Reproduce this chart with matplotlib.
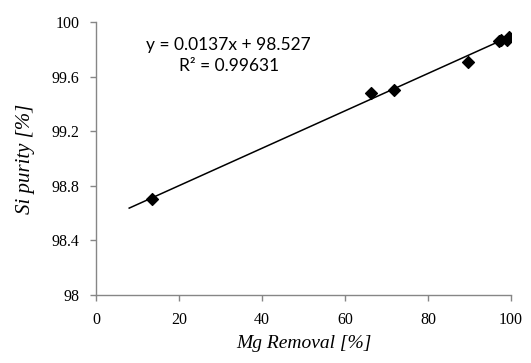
import numpy as np
import matplotlib.pyplot as plt

mg_removal = [13.5, 66.3, 71.7, 89.7, 97.1, 97.6, 99.1, 99.5]
si_purity = [98.70, 99.48, 99.50, 99.71, 99.86, 99.87, 99.87, 99.89]

# Excel linear trendline
slope, intercept = 0.0137, 98.527
trend_x = np.array([8, 100])
eq_text = 'y = 0.0137x + 98.527\nR² = 0.99631'

x_ticks = [0, 20, 40, 60, 80, 100]
y_ticks = [98, 98.4, 98.8, 99.2, 99.6, 100]
y_tick_labels = ['98', '98.4', '98.8', '99.2', '99.6', '100']

fig = plt.figure(figsize=(5.31, 3.63), dpi=100)
ax = fig.add_axes([0.1808, 0.1873, 0.7815, 0.7521])

ax.plot(trend_x, slope * trend_x + intercept, color='black', lw=1.1, zorder=2)
ax.scatter(mg_removal, si_purity, marker='D', s=36, color='black', zorder=3)

ax.text(32, 99.755, eq_text, ha='center', va='center', fontsize=12.5,
        family='Lato', linespacing=1.4)

ax.set_xlim(0, 100)
ax.set_ylim(98, 100)
ax.set_xticks(x_ticks)
ax.set_yticks(y_ticks)
ax.set_yticklabels(y_tick_labels)

for s in ['top', 'right']:
    ax.spines[s].set_visible(False)
for s in ['left', 'bottom']:
    ax.spines[s].set_color('#868686')
    ax.spines[s].set_linewidth(1.0)

ax.tick_params(direction='out', length=4, color='#868686', width=1.0,
               labelsize=11.5)
ax.tick_params(axis='y', pad=8)
ax.tick_params(axis='x', pad=8)
for lab in ax.get_xticklabels() + ax.get_yticklabels():
    lab.set_family('Liberation Serif')

ax.set_xlabel('Mg Removal [%]', family='Liberation Serif', style='italic',
              fontsize=14, labelpad=5)
ax.set_ylabel('Si purity [%]', family='Liberation Serif', style='italic',
              fontsize=15, labelpad=12)

plt.savefig('out.png', dpi=100)
